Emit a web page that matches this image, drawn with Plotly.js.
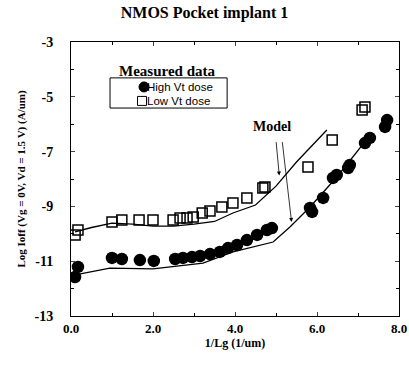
<!DOCTYPE html>
<html><head><meta charset="utf-8">
<script src="https://cdn.plot.ly/plotly-3.0.1.min.js"></script>
<style>html,body{margin:0;padding:0;background:#fff}</style>
</head><body><div id="chart" style="width:409px;height:365px"></div>
<script>
const highX = [0.10,0.17,1.00,1.24,1.68,2.02,2.54,2.73,2.95,3.15,3.39,3.63,3.83,4.05,4.29,4.54,4.78,4.90,5.83,5.88,6.15,6.39,6.48,6.76,6.80,7.17,7.29,7.66,7.71];
const highY = [-11.58,-11.21,-10.88,-10.92,-10.96,-10.99,-10.92,-10.88,-10.85,-10.81,-10.74,-10.66,-10.52,-10.41,-10.23,-10.04,-9.86,-9.79,-9.06,-9.20,-8.69,-7.96,-7.85,-7.60,-7.49,-6.69,-6.50,-6.10,-5.85];
const lowX = [0.10,0.17,1.00,1.24,1.66,2.00,2.49,2.66,2.83,2.98,3.20,3.39,3.68,3.95,4.29,4.68,4.73,5.78,6.37,7.10,7.17];
const lowY = [-10.04,-9.86,-9.57,-9.50,-9.50,-9.50,-9.50,-9.42,-9.42,-9.39,-9.24,-9.17,-9.02,-8.88,-8.69,-8.33,-8.29,-7.56,-6.58,-5.48,-5.37];
const modelLowX = [0.10,0.50,1.00,1.50,2.00,2.50,3.00,3.50,3.95,4.50,5.00,5.50,6.24];
const modelLowY = [-9.93,-9.77,-9.61,-9.65,-9.72,-9.72,-9.65,-9.55,-9.24,-8.95,-8.26,-7.38,-6.21];
const modelHighX = [0.10,0.95,2.00,3.22,3.95,4.93,5.34,5.83,6.50,7.34];
const modelHighY = [-11.50,-11.25,-11.28,-11.07,-10.66,-10.30,-9.75,-9.02,-7.90,-6.32];
const xTicks = [0,2,4,6,8];
const yTicks = [-3,-5,-7,-9,-11,-13];
const yTickText = yTicks.map(v => String(v));
const seriesNames = ['High Vt dose','Low Vt dose'];

const serif = "Liberation Serif, Times New Roman, serif";
const sans = "Liberation Sans, Arial, sans-serif";
const traces = [
  {x: modelLowX, y: modelLowY, mode:'lines', line:{color:'#000', width:1.3}, showlegend:false, hoverinfo:'skip'},
  {x: modelHighX, y: modelHighY, mode:'lines', line:{color:'#000', width:1.3}, showlegend:false, hoverinfo:'skip'},
  {x: highX, y: highY, mode:'markers', name:seriesNames[0], showlegend:false, marker:{symbol:'circle', size:12.5, color:'#000'}},
  {x: lowX, y: lowY, mode:'markers', name:seriesNames[1], showlegend:false, marker:{symbol:'square-open', size:10, color:'#000', line:{width:1.5}}}
];
const layout = {
  width:409, height:365,
  margin:{l:71, r:10, t:42, b:49},
  paper_bgcolor:'#fff', plot_bgcolor:'#fff',
  title:{text:'NMOS Pocket implant 1', x:0.5, xanchor:'center', y:0.965, yanchor:'middle', font:{family:serif, size:16, color:'#000', weight:'bold'}},
  xaxis:{range:[0,8], tickvals:xTicks, tickformat:'.1f', ticks:'inside', ticklen:4, mirror:'ticks', showline:true, linecolor:'#000', linewidth:1, showgrid:false, zeroline:false,
    minor:{dtick:1, ticks:'inside', ticklen:3, tickcolor:'#000'},
    tickfont:{family:serif, size:13, color:'#000', weight:'bold'},
    title:{text:'1/Lg (1/um)', font:{family:serif, size:12, color:'#000', weight:'bold'}, standoff:3}},
  yaxis:{range:[-13,-3], tickvals:yTicks, ticktext:yTickText, ticks:'inside', ticklen:4, mirror:'ticks', showline:true, linecolor:'#000', linewidth:1, showgrid:false, zeroline:false,
    minor:{dtick:1, ticks:'inside', ticklen:3, tickcolor:'#000'},
    tickfont:{family:serif, size:14, color:'#000', weight:'bold'}, ticklabelstandoff:14,
    title:{text:'Log Ioff (Vg = 0V, Vd = 1.5 V) (A/um)', font:{family:serif, size:11, color:'#000', weight:'bold'}, standoff:6}},
  showlegend:false,
  shapes:[
    {type:'rect', xref:'paper', yref:'paper', x0:0.119, x1:0.476, y0:0.759, y1:0.869, line:{color:'#000', width:1}, fillcolor:'#fff', layer:'above'},
    {type:'circle', xref:'paper', yref:'paper', xsizemode:'pixel', ysizemode:'pixel', xanchor:0.2226, yanchor:0.836, x0:-5, x1:5, y0:-5, y1:5, fillcolor:'#000', line:{color:'#000', width:1}, layer:'above'},
    {type:'rect', xref:'paper', yref:'paper', xsizemode:'pixel', ysizemode:'pixel', xanchor:0.2165, yanchor:0.785, x0:-4.5, x1:4.5, y0:-4.5, y1:4.5, fillcolor:'#fff', line:{color:'#000', width:1}, layer:'above'}
  ],
  annotations:[
    {text:'Measured data', xref:'paper', yref:'paper', x:0.14, y:0.895, xanchor:'left', yanchor:'middle', showarrow:false, font:{family:serif, size:15, color:'#000', weight:'bold'}},
    {text:seriesNames[0], xref:'paper', yref:'paper', x:0.2317, y:0.836, xanchor:'left', yanchor:'middle', showarrow:false, xshift:-2, font:{family:sans, size:11.5, color:'#000'}},
    {text:seriesNames[1], xref:'paper', yref:'paper', x:0.2317, y:0.785, xanchor:'left', yanchor:'middle', showarrow:false, xshift:-2, font:{family:sans, size:11.5, color:'#000'}},
    {text:'Model', x:4.9, y:-6.1, xanchor:'center', yanchor:'middle', showarrow:false, font:{family:serif, size:14, color:'#000', weight:'bold'}},
    {text:'', x:5.08, y:-7.87, ax:5.0, ay:-6.6, axref:'x', ayref:'y', showarrow:true, arrowhead:2, arrowsize:1, arrowwidth:0.8, arrowcolor:'#000'},
    {text:'', x:5.38, y:-9.57, ax:5.15, ay:-6.6, axref:'x', ayref:'y', showarrow:true, arrowhead:2, arrowsize:1, arrowwidth:0.8, arrowcolor:'#000'}
  ]
};
Plotly.newPlot('chart', traces, layout, {displayModeBar:false, staticPlot:true});
</script></body></html>
